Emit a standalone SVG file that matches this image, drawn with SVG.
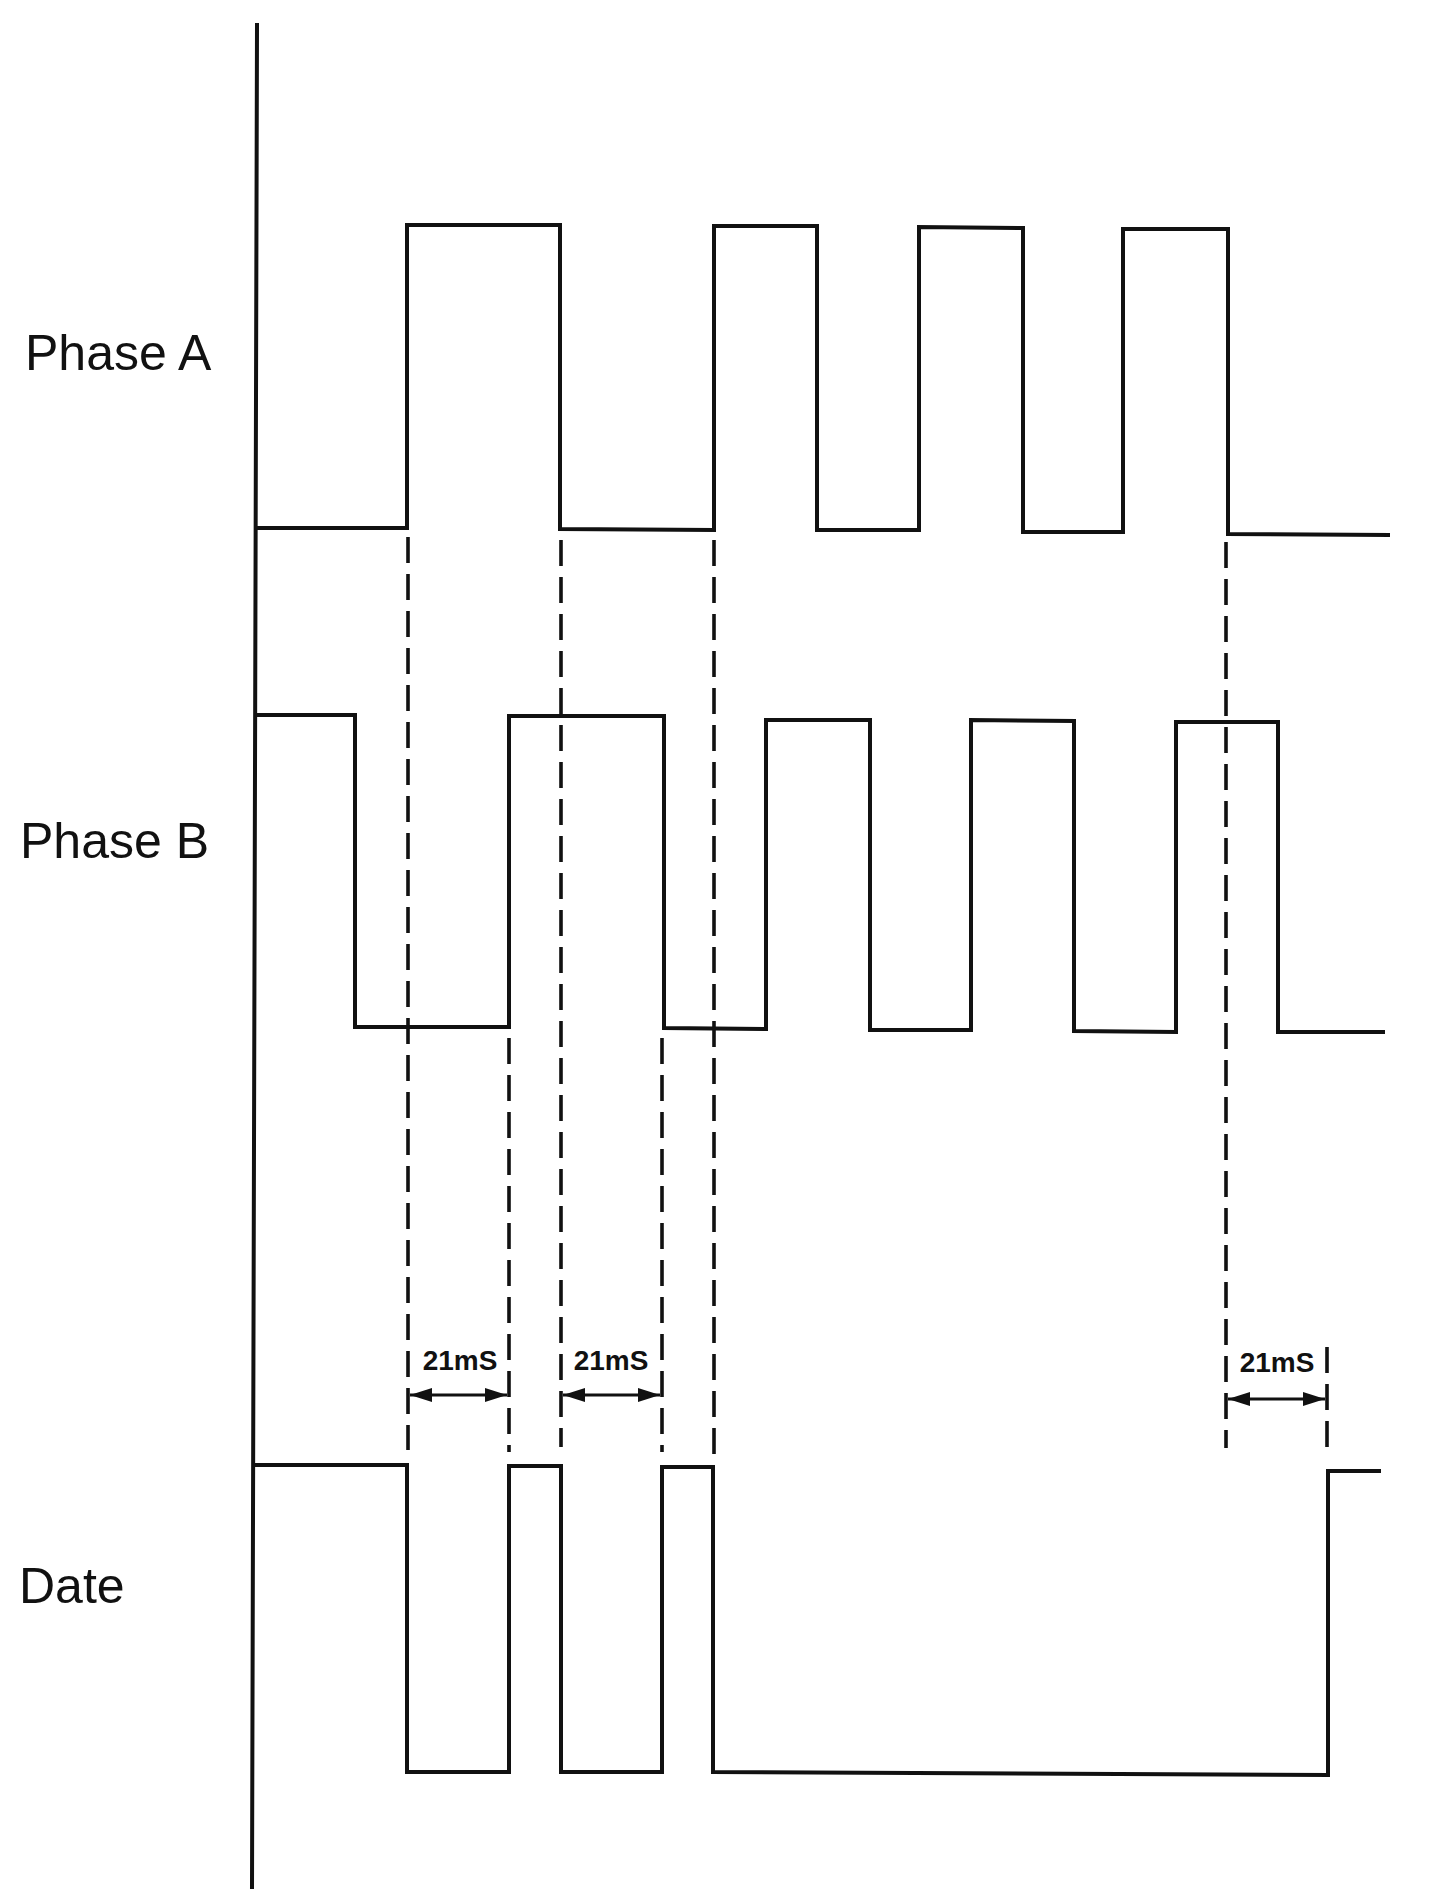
<svg xmlns="http://www.w3.org/2000/svg" width="1430" height="1889" viewBox="0 0 1430 1889">
<style>
.sig{fill:none;stroke:#111;stroke-width:4;stroke-linejoin:miter;stroke-linecap:square}
.dash{fill:none;stroke:#111;stroke-width:3.6;stroke-dasharray:26 11}
.dim{fill:none;stroke:#111;stroke-width:3}
.lbl{font-family:"Liberation Sans",Arial,sans-serif;font-size:50px;fill:#111}
.ms{font-family:"Liberation Sans",Arial,sans-serif;font-size:28px;font-weight:bold;fill:#111}
</style>
<defs>
<marker id="ah" viewBox="0 0 22 14" refX="22" refY="7" markerWidth="22" markerHeight="14" markerUnits="userSpaceOnUse" orient="auto-start-reverse">
<path d="M0,0 L22,7 L0,14 z" fill="#111"/>
</marker>
</defs>
<rect width="1430" height="1889" fill="#fff"/>
<g id="axis">
<line class="sig" x1="257" y1="25" x2="252" y2="1889"/>
</g>
<g id="phaseA">
<text class="lbl" x="25" y="370">Phase A</text>
<polyline class="sig" points="259,528 407,528 407,225 560,225 560,529 714,530 714,226 817,226 817,530 919,530 919,227 1023,228 1023,532 1123,532 1123,229 1228,229 1228,534 1388,535"/>
</g>
<g id="phaseB">
<text class="lbl" x="20" y="858">Phase B</text>
<polyline class="sig" points="257,715 355,715 355,1027 509,1027 509,716 664,716 664,1028 766,1029 766,720 870,720 870,1030 971,1030 971,720 1074,721 1074,1031 1176,1032 1176,722 1278,722 1278,1032 1383,1032"/>
</g>
<g id="date">
<text class="lbl" x="19" y="1603">Date</text>
<polyline class="sig" points="254,1465 407,1465 407,1772 509,1772 509,1466 561,1466 561,1772 662,1772 662,1467 713,1467 713,1772 1328,1775 1328,1471 1379,1471"/>
</g>
<g id="connectors">
<line class="dash" x1="408" y1="537" x2="408" y2="1450"/>
<line class="dash" x1="509" y1="1038" x2="509" y2="1452"/>
<line class="dash" x1="561" y1="540" x2="561" y2="1447"/>
<line class="dash" x1="662" y1="1038" x2="662" y2="1452"/>
<line class="dash" x1="714" y1="540" x2="714" y2="1456"/>
<line class="dash" x1="1226" y1="542" x2="1226" y2="1448"/>
<line class="dash" x1="1327" y1="1347" x2="1327" y2="1447"/>
<line class="dim" x1="410" y1="1395" x2="507" y2="1395" marker-start="url(#ah)" marker-end="url(#ah)"/>
<line class="dim" x1="563" y1="1395" x2="660" y2="1395" marker-start="url(#ah)" marker-end="url(#ah)"/>
<line class="dim" x1="1228" y1="1399" x2="1325" y2="1399" marker-start="url(#ah)" marker-end="url(#ah)"/>
</g>
<g id="labels">
<text class="ms" x="460" y="1370" text-anchor="middle">21mS</text>
<text class="ms" x="611" y="1370" text-anchor="middle">21mS</text>
<text class="ms" x="1277" y="1372" text-anchor="middle">21mS</text>
</g>
</svg>
